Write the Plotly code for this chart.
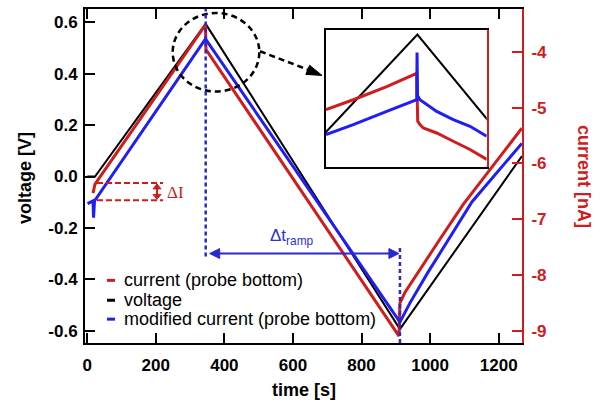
import plotly.graph_objects as go

# ---------------- data ----------------
# voltage ramp (black, left axis)
time_voltage = [0.0, 22.7, 345.5, 912.0, 1268.0]
voltage = [0.0, 0.0, 0.594, -0.594, 0.080]

# current (probe bottom), red, right axis [nA]
time_current = [16.9, 22.7, 344.9, 346.4, 909.3, 911.9, 926.5, 964.4, 1031.4, 1095.6, 1267.6]
current = [-6.53, -6.37, -3.52, -3.96, -9.09, -8.50, -8.31, -7.95, -7.33, -6.74, -5.37]

# modified current (probe bottom), blue, right axis [nA]
time_modified = [1.0, 16.9, 18.4, 21.3, 344.9, 912.0, 941.0, 993.6, 1051.9, 1121.9, 1267.6]
modified = [-6.72, -6.67, -6.97, -6.67, -3.77, -8.84, -8.50, -7.95, -7.38, -6.69, -5.64]

# inset (zoom around the voltage maximum)
inset_time_current = [260.2, 285.7, 316.9, 344.9, 345.8, 347.9, 351.0, 363.5, 379.0, 394.6, 410.2]
inset_current = [-4.406, -4.268, -4.084, -3.900, -4.568, -4.614, -4.661, -4.730, -4.845, -4.960, -5.098]
inset_time_modified = [260.2, 285.7, 316.9, 344.9, 345.2, 345.6, 347.9, 363.5, 379.0, 394.6, 410.2]
inset_modified = [-4.752, -4.614, -4.430, -4.268, -3.610, -4.207, -4.268, -4.430, -4.545, -4.637, -4.776]

x_ticks = [0, 200, 400, 600, 800, 1000, 1200]
x_tick_labels = ["0", "200", "400", "600", "800", "1000", "1200"]
v_ticks = [-0.6, -0.4, -0.2, 0.0, 0.2, 0.4, 0.6]
v_tick_labels = ["-0.6", "-0.4", "-0.2", "0.0", "0.2", "0.4", "0.6"]
i_ticks = [-9, -8, -7, -6, -5, -4]
i_tick_labels = ["-9", "-8", "-7", "-6", "-5", "-4"]

legend_names = ["current (probe bottom)", "voltage", "modified current (probe bottom)"]

# ---------------- styling ----------------
RED = "#d01c1c"
BLUE = "#1f1ff5"
BLUE_D = "#2a2ac8"
BLACK = "#000000"
FONT = "Arial, Liberation Sans, sans-serif"

W, H = 604, 406
L, R, T, B = 85, 522, 7, 343
X_RANGE = [-6.5, 1268.0]


def px_x(p):
    return (p - L) / (R - L)


def px_y(p):
    return (B - p) / (B - T)


def t_to_px(t):
    return L + (t - X_RANGE[0]) / (X_RANGE[1] - X_RANGE[0]) * (R - L)


def tri(tip, base_a, base_b):
    pts = [tip, base_a, base_b]
    return "M {} {} L {} {} L {} {} Z".format(*[v for p in pts for v in (px_x(p[0]), px_y(p[1]))])


fig = go.Figure()

# main traces
fig.add_trace(go.Scatter(x=time_voltage, y=voltage, mode="lines", name=legend_names[1],
                         line=dict(color=BLACK, width=2), xaxis="x", yaxis="y", showlegend=False))
fig.add_trace(go.Scatter(x=time_current, y=current, mode="lines", name=legend_names[0],
                         line=dict(color=RED, width=3), xaxis="x", yaxis="y2", showlegend=False))
fig.add_trace(go.Scatter(x=time_modified, y=modified, mode="lines", name=legend_names[2],
                         line=dict(color=BLUE, width=3), xaxis="x", yaxis="y2", showlegend=False))

# inset traces
fig.add_trace(go.Scatter(x=time_voltage, y=voltage, mode="lines",
                         line=dict(color=BLACK, width=2), xaxis="x2", yaxis="y3", showlegend=False))
fig.add_trace(go.Scatter(x=inset_time_current, y=inset_current, mode="lines",
                         line=dict(color=RED, width=3), xaxis="x2", yaxis="y4", showlegend=False))
fig.add_trace(go.Scatter(x=inset_time_modified, y=inset_modified, mode="lines",
                         line=dict(color=BLUE, width=3), xaxis="x2", yaxis="y4", showlegend=False))

tickfont = dict(family=FONT, size=17, color=BLACK, weight="bold")

fig.update_layout(
    width=W, height=H,
    margin=dict(l=L, r=W - R, t=T, b=H - B, pad=0),
    paper_bgcolor="white", plot_bgcolor="white",
    showlegend=False,
    xaxis=dict(range=X_RANGE, tickvals=x_ticks, ticktext=x_tick_labels,
               ticks="inside", ticklen=10, tickwidth=2, tickcolor=BLACK,
               showline=True, linewidth=2, linecolor=BLACK, mirror="ticks",
               showgrid=False, zeroline=False, tickfont=tickfont, ticklabelstandoff=6),
    yaxis=dict(range=[-0.648, 0.652], tickvals=v_ticks, ticktext=v_tick_labels,
               ticks="inside", ticklen=10, tickwidth=2, tickcolor=BLACK,
               showline=True, linewidth=2, linecolor=BLACK,
               showgrid=False, zeroline=False, tickfont=tickfont, ticklabelstandoff=2),
    yaxis2=dict(range=[-9.214, -3.235], tickvals=i_ticks, ticktext=i_tick_labels,
                overlaying="y", side="right", anchor="x",
                ticks="inside", ticklen=10, tickwidth=2, tickcolor=RED,
                showline=True, linewidth=2, linecolor=RED,
                showgrid=False, zeroline=False,
                tickfont=dict(family=FONT, size=17, color=RED, weight="bold"),
                ticklabelstandoff=4),
    xaxis2=dict(domain=[px_x(326), px_x(486.7)], range=[260.2, 410.2], anchor="y3",
                showticklabels=False, ticks="", showgrid=False, zeroline=False,
                showline=True, linewidth=2, linecolor=BLACK, mirror=True),
    yaxis3=dict(domain=[px_y(165.7), px_y(28.3)], range=[0.381, 0.601], anchor="x2",
                showticklabels=False, ticks="", showgrid=False, zeroline=False,
                showline=True, linewidth=2, linecolor=BLACK),
    yaxis4=dict(range=[-5.2, -3.3], overlaying="y3", side="right", anchor="x2",
                showticklabels=False, ticks="", showgrid=False, zeroline=False,
                showline=True, linewidth=2, linecolor=RED),
)

shapes = []
annotations = []

# legend (short line symbols + text)
legend_colors = [RED, BLACK, BLUE]
legend_y = [280, 300, 319]
for name, col, yy in zip(legend_names, legend_colors, legend_y):
    shapes.append(dict(type="line", xref="paper", yref="paper",
                       x0=px_x(107), x1=px_x(115), y0=px_y(yy), y1=px_y(yy),
                       line=dict(color=col, width=3)))
    annotations.append(dict(xref="paper", yref="paper", x=px_x(122), y=px_y(yy),
                            xanchor="left", yanchor="middle", showarrow=False,
                            text=name, font=dict(family=FONT, size=18, color=BLACK)))

# axis titles
annotations.append(dict(xref="paper", yref="paper", x=px_x(303.5), y=px_y(390),
                        xanchor="center", yanchor="middle", showarrow=False,
                        text="time [s]", font=dict(family=FONT, size=18, color=BLACK, weight="bold")))
annotations.append(dict(xref="paper", yref="paper", x=px_x(25), y=px_y(177),
                        xanchor="center", yanchor="middle", showarrow=False, textangle=-90,
                        text="voltage [V]", font=dict(family=FONT, size=18, color=BLACK, weight="bold")))
annotations.append(dict(xref="paper", yref="paper", x=px_x(584), y=px_y(175),
                        xanchor="center", yanchor="middle", showarrow=False, textangle=90,
                        text="current [nA]", font=dict(family=FONT, size=18, color=RED, weight="bold")))

# dashed circle around the maximum and dashed arrow to the inset
shapes.append(dict(type="circle", xref="paper", yref="paper",
                   x0=px_x(172.7), x1=px_x(259.3), y0=px_y(90), y1=px_y(11),
                   line=dict(color=BLACK, width=2.5, dash="6px,4px")))
shapes.append(dict(type="line", xref="paper", yref="paper",
                   x0=px_x(260), y0=px_y(49.5), x1=px_x(309), y1=px_y(68.5),
                   line=dict(color=BLACK, width=2.5, dash="6px,4px")))
shapes.append(dict(type="path", xref="paper", yref="paper",
                   path=tri((322, 73.8), (309.6, 63.6), (305.8, 72.8)),
                   fillcolor=BLACK, line=dict(color=BLACK, width=1)))

# blue dashed verticals at the turning points and the delta t arrow
t_peak = time_voltage[2]
t_min = time_voltage[3]
xp = t_to_px(t_peak)
xm = t_to_px(t_min)
shapes.append(dict(type="line", xref="x", yref="paper", x0=t_peak, x1=t_peak,
                   y0=px_y(256), y1=1.0, line=dict(color=BLUE_D, width=2.5, dash="4px,3px")))
shapes.append(dict(type="line", xref="x", yref="paper", x0=t_min, x1=t_min,
                   y0=0.0, y1=px_y(245), line=dict(color=BLUE_D, width=2.5, dash="4px,3px")))
ya = 253
shapes.append(dict(type="line", xref="paper", yref="paper",
                   x0=px_x(xp + 8), x1=px_x(xm - 8), y0=px_y(ya), y1=px_y(ya),
                   line=dict(color=BLUE_D, width=2)))
shapes.append(dict(type="path", xref="paper", yref="paper",
                   path=tri((xp + 4, ya), (xp + 14, ya - 5), (xp + 14, ya + 5)),
                   fillcolor=BLUE_D, line=dict(color=BLUE_D, width=1)))
shapes.append(dict(type="path", xref="paper", yref="paper",
                   path=tri((xm - 1, ya), (xm - 11, ya - 5), (xm - 11, ya + 5)),
                   fillcolor=BLUE_D, line=dict(color=BLUE_D, width=1)))
annotations.append(dict(xref="paper", yref="paper", x=px_x(292), y=px_y(236),
                        xanchor="center", yanchor="middle", showarrow=False,
                        text="Δt<sub>ramp</sub>", font=dict(family=FONT, size=17, color="#3030d0")))

# delta I marker (red)
shapes.append(dict(type="line", xref="paper", yref="paper", x0=px_x(97), x1=px_x(163),
                   y0=px_y(182), y1=px_y(182), line=dict(color=RED, width=2, dash="6px,3px")))
shapes.append(dict(type="line", xref="paper", yref="paper", x0=px_x(97), x1=px_x(163),
                   y0=px_y(199.5), y1=px_y(199.5), line=dict(color=RED, width=2, dash="6px,3px")))
shapes.append(dict(type="line", xref="paper", yref="paper", x0=px_x(157), x1=px_x(157),
                   y0=px_y(186), y1=px_y(196), line=dict(color=RED, width=2)))
shapes.append(dict(type="path", xref="paper", yref="paper",
                   path=tri((157, 183), (153, 188), (161, 188)),
                   fillcolor=RED, line=dict(color=RED, width=1)))
shapes.append(dict(type="path", xref="paper", yref="paper",
                   path=tri((157, 198.5), (153, 193.5), (161, 193.5)),
                   fillcolor=RED, line=dict(color=RED, width=1)))
annotations.append(dict(xref="paper", yref="paper", x=px_x(165), y=px_y(192),
                        xanchor="left", yanchor="middle", showarrow=False,
                        text="ΔI", font=dict(family="Liberation Serif, Times New Roman, serif",
                                             size=17, color=RED)))

fig.update_layout(shapes=shapes, annotations=annotations)

fig.write_html("out.html")
